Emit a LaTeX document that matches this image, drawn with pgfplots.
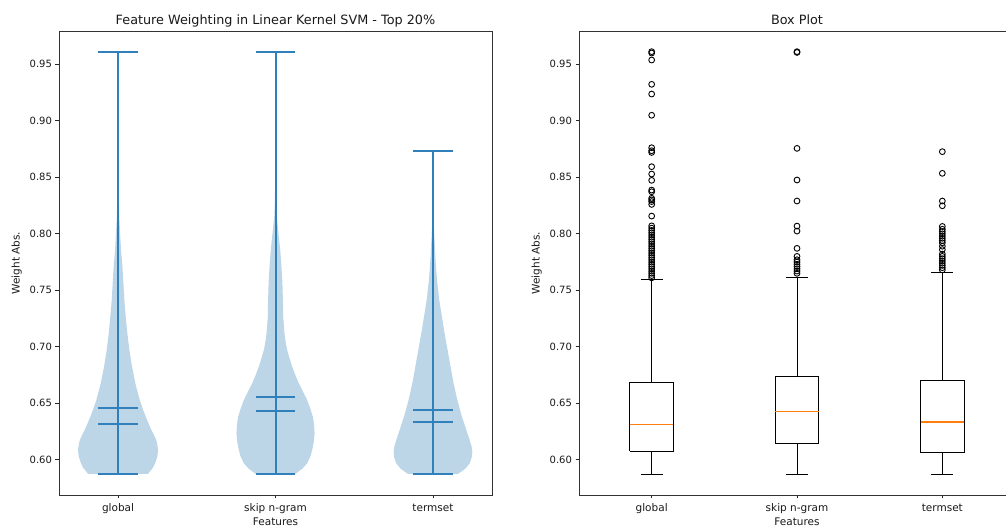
\documentclass[border=0pt]{standalone}
\usepackage{pgfplots}
\pgfplotsset{compat=1.18}
\usepackage{pgfplotstable}
\usepackage{fontspec}
\setmainfont{DejaVu Sans}
\definecolor{cZero}{HTML}{2F80BB}
\definecolor{vfill}{HTML}{BCD6E8}
\definecolor{corange}{HTML}{FF7F0E}

% violin outlines: y value, half width (data units)
\pgfplotstableread{
y hw
0.5875 0.000
0.5875 0.190
0.5930 0.222
0.5970 0.236
0.6030 0.250
0.6086 0.254
0.6130 0.250
0.6174 0.243
0.6220 0.228
0.6263 0.212
0.6320 0.194
0.6381 0.176
0.6450 0.157
0.6528 0.138
0.6600 0.124
0.6676 0.110
0.6823 0.089
0.6971 0.072
0.7119 0.059
0.7266 0.049
0.7414 0.040
0.7561 0.034
0.7708 0.028
0.7856 0.019
0.8004 0.013
0.8151 0.008
0.8300 0.005
0.8500 0.003
0.8800 0.001
0.9200 0.0005
0.9610 0.0
}\tabGlobal

\pgfplotstableread{
y hw
0.5875 0.000
0.5875 0.127
0.5920 0.170
0.5968 0.201
0.6030 0.222
0.6086 0.233
0.6160 0.243
0.6234 0.248
0.6310 0.245
0.6381 0.237
0.6450 0.222
0.6528 0.201
0.6600 0.176
0.6676 0.148
0.6750 0.126
0.6823 0.106
0.6900 0.089
0.6971 0.074
0.7045 0.064
0.7119 0.057
0.7266 0.049
0.7414 0.047
0.7561 0.044
0.7708 0.038
0.7856 0.030
0.8004 0.019
0.8151 0.008
0.8300 0.004
0.8500 0.002
0.8800 0.001
0.9200 0.0005
0.9610 0.0
}\tabSkip

\pgfplotstableread{
y hw
0.5875 0.000
0.5875 0.159
0.5920 0.205
0.5968 0.233
0.6020 0.246
0.6071 0.250
0.6120 0.245
0.6174 0.233
0.6263 0.212
0.6381 0.184
0.6528 0.155
0.6676 0.131
0.6823 0.112
0.6971 0.093
0.7119 0.074
0.7266 0.057
0.7414 0.040
0.7561 0.028
0.7708 0.019
0.7856 0.013
0.8004 0.008
0.8150 0.004
0.8300 0.002
0.8500 0.001
0.8733 0.0
}\tabTerm

\pgfplotsset{
  base/.style={
    scale only axis, height=464pt,
    ymin=0.5688, ymax=0.9795,
    ytick={0.60,0.65,0.70,0.75,0.80,0.85,0.90,0.95},
    scaled y ticks=false,
    /pgf/number format/assume math mode=true,
    yticklabel style={/pgf/number format/.cd, fixed, fixed zerofill, precision=2, /tikz/.cd},
    xtick={1,2,3}, xticklabels={global, skip n-gram, termset},
    tick align=outside, tick pos=left, major tick length=3.5pt,
    tick style={black!85, line width=0.8pt},
    axis line style={black!80, line width=0.8pt},
    font=\fontsize{10}{12}\selectfont,
    tick label style={text=black!90},
    label style={text=black!90, font=\fontsize{10.5}{12}\selectfont},
    xlabel={Features}, ylabel={Weight Abs.},
    xlabel style={at={(axis description cs:0.5,0)}, anchor=base, yshift=-31pt},
    ylabel style={at={(axis description cs:0,0.5)}, anchor=center, yshift=42.3pt},
    xticklabel style={anchor=base, yshift=-13.5pt, font=\fontsize{10.5}{12}\selectfont},
    title style={font=\fontsize{12.8}{15}\selectfont, text=black!90, at={(axis description cs:0.5,1)}, anchor=base, yshift=0.5pt},
  },
  vline/.style={color=cZero, line width=2pt, line cap=butt},
  bxl/.style={color=black, line width=1pt},
  mdl/.style={color=corange, line width=1.3pt, line cap=butt},
  fly/.style={only marks, mark=o, mark size=2.9pt, color=black, mark options={line width=0.9pt}},
}

\begin{document}
\begin{tikzpicture}
% ---------------- left: violin plot ----------------
\begin{axis}[base, at={(59pt,34pt)}, anchor=south west, width=433pt,
  xmin=0.625, xmax=3.375,
  title={Feature Weighting in Linear Kernel SVM - Top 20\%}]
  \addplot[fill=vfill, draw=none] table[x expr=1+\thisrow{hw}, y=y] {\tabGlobal};
  \addplot[fill=vfill, draw=none] table[x expr=1-\thisrow{hw}, y=y] {\tabGlobal};
  \addplot[fill=vfill, draw=none] table[x expr=2+\thisrow{hw}, y=y] {\tabSkip};
  \addplot[fill=vfill, draw=none] table[x expr=2-\thisrow{hw}, y=y] {\tabSkip};
  \addplot[fill=vfill, draw=none] table[x expr=3+\thisrow{hw}, y=y] {\tabTerm};
  \addplot[fill=vfill, draw=none] table[x expr=3-\thisrow{hw}, y=y] {\tabTerm};
  % extrema bars
  \addplot[vline] coordinates {(1,0.5875) (1,0.9612)};
  \addplot[vline] coordinates {(2,0.5875) (2,0.9612)};
  \addplot[vline] coordinates {(3,0.5875) (3,0.8733)};
  \addplot[vline] coordinates {(0.875,0.9612) (1.125,0.9612)};
  \addplot[vline] coordinates {(1.875,0.9612) (2.125,0.9612)};
  \addplot[vline] coordinates {(2.875,0.8733) (3.125,0.8733)};
  \addplot[vline] coordinates {(0.875,0.5875) (1.125,0.5875)};
  \addplot[vline] coordinates {(1.875,0.5875) (2.125,0.5875)};
  \addplot[vline] coordinates {(2.875,0.5875) (3.125,0.5875)};
  % means
  \addplot[vline] coordinates {(0.875,0.6460) (1.125,0.6460)};
  \addplot[vline] coordinates {(1.875,0.6558) (2.125,0.6558)};
  \addplot[vline] coordinates {(2.875,0.6443) (3.125,0.6443)};
  % medians
  \addplot[vline] coordinates {(0.875,0.6319) (1.125,0.6319)};
  \addplot[vline] coordinates {(1.875,0.6431) (2.125,0.6431)};
  \addplot[vline] coordinates {(2.875,0.6336) (3.125,0.6336)};
\end{axis}

% ---------------- right: box plot ----------------
\begin{axis}[base, at={(579pt,34pt)}, anchor=south west, width=436pt,
  xmin=0.5, xmax=3.5,
  title={Box Plot}]
  % global
  \addplot[bxl] coordinates {(0.85,0.6077) (1.15,0.6077) (1.15,0.6682) (0.85,0.6682) (0.85,0.6077)};
  \addplot[bxl] coordinates {(1,0.5871) (1,0.6077)};
  \addplot[bxl] coordinates {(1,0.6682) (1,0.7591)};
  \addplot[bxl] coordinates {(0.925,0.5871) (1.075,0.5871)};
  \addplot[bxl] coordinates {(0.925,0.7591) (1.075,0.7591)};
  \addplot[mdl] coordinates {(0.85,0.6313) (1.15,0.6313)};
  % skip n-gram
  \addplot[bxl] coordinates {(1.85,0.6145) (2.15,0.6145) (2.15,0.6741) (1.85,0.6741) (1.85,0.6145)};
  \addplot[bxl] coordinates {(2,0.5871) (2,0.6145)};
  \addplot[bxl] coordinates {(2,0.6741) (2,0.7614)};
  \addplot[bxl] coordinates {(1.925,0.5871) (2.075,0.5871)};
  \addplot[bxl] coordinates {(1.925,0.7614) (2.075,0.7614)};
  \addplot[mdl] coordinates {(1.85,0.6425) (2.15,0.6425)};
  % termset
  \addplot[bxl] coordinates {(2.85,0.6062) (3.15,0.6062) (3.15,0.6703) (2.85,0.6703) (2.85,0.6062)};
  \addplot[bxl] coordinates {(3,0.5871) (3,0.6062)};
  \addplot[bxl] coordinates {(3,0.6703) (3,0.7659)};
  \addplot[bxl] coordinates {(2.925,0.5871) (3.075,0.5871)};
  \addplot[bxl] coordinates {(2.925,0.7659) (3.075,0.7659)};
  \addplot[mdl] coordinates {(2.85,0.6334) (3.15,0.6334)};
  % outliers
  \addplot[fly] coordinates {
    (1,0.9612) (1,0.9600) (1,0.9538) (1,0.9323) (1,0.9237) (1,0.9049)
    (1,0.8762) (1,0.8735) (1,0.8720) (1,0.8594) (1,0.8529) (1,0.8473)
    (1,0.8387) (1,0.8372) (1,0.8314) (1,0.8300) (1,0.8285) (1,0.8260)
    (1,0.8157) (1,0.8070) (1,0.8050) (1,0.8030) (1,0.8010) (1,0.7990)
    (1,0.7970) (1,0.7950) (1,0.7930) (1,0.7910) (1,0.7890) (1,0.7870)
    (1,0.7850) (1,0.7830) (1,0.7810) (1,0.7790) (1,0.7770) (1,0.7750)
    (1,0.7730) (1,0.7710) (1,0.7690) (1,0.7670) (1,0.7650) (1,0.7630)
    (1,0.7610)};
  \addplot[fly] coordinates {
    (2,0.9612) (2,0.9605) (2,0.8756) (2,0.8476) (2,0.8290) (2,0.8068)
    (2,0.8024) (2,0.7871) (2,0.7800) (2,0.7770) (2,0.7750) (2,0.7730)
    (2,0.7710) (2,0.7690) (2,0.7670) (2,0.7650)};
  \addplot[fly] coordinates {
    (3,0.8727) (3,0.8535) (3,0.8290) (3,0.8248) (3,0.8065) (3,0.8040)
    (3,0.8020) (3,0.8000) (3,0.7980) (3,0.7960) (3,0.7940) (3,0.7920)
    (3,0.7890) (3,0.7860) (3,0.7820) (3,0.7800) (3,0.7780) (3,0.7760)
    (3,0.7740) (3,0.7720) (3,0.7700) (3,0.7680)};
\end{axis}
\pgfresetboundingbox
\path[use as bounding box] (0,0) rectangle (1006pt,529pt);
\end{tikzpicture}
\end{document}
